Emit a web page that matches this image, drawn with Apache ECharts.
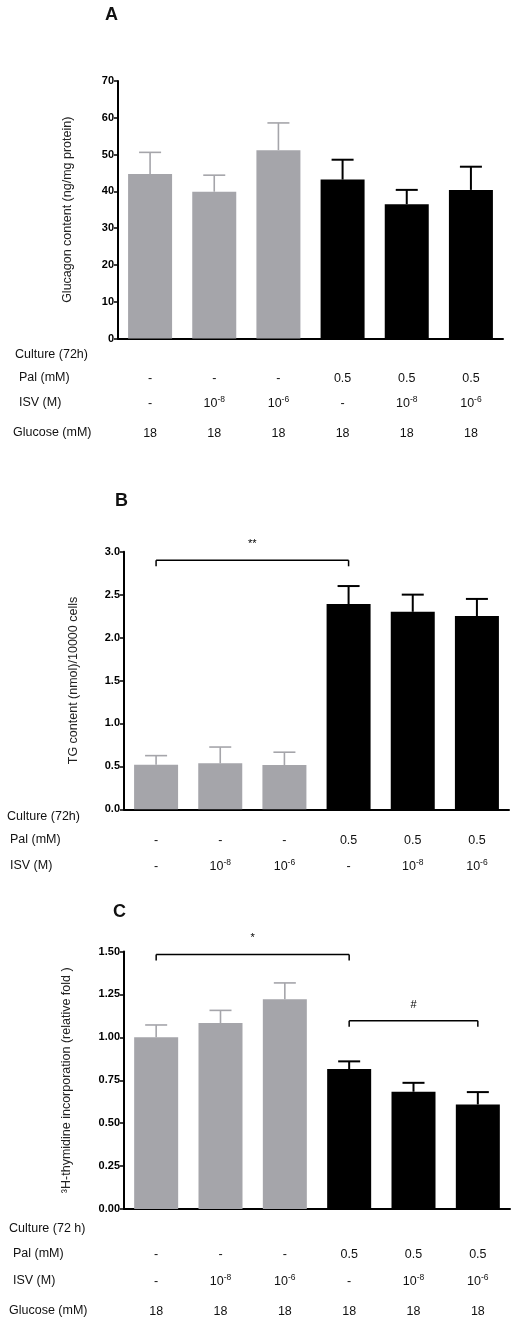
<!DOCTYPE html>
<html><head><meta charset="utf-8">
<script src="https://cdn.jsdelivr.net/npm/echarts@6/dist/echarts.min.js"></script>
<style>html,body{margin:0;padding:0;background:#fff}#c{width:516px;height:1327px}</style>
</head><body><div id="c"></div>
<script>
// ---- data ----
const categories = ['G1','G2','G3','G4','G5','G6'];
const palRow = ['-','-','-','0.5','0.5','0.5'];
const isvRow = ['-','10^-8','10^-6','-','10^-8','10^-6'];
const glucoseRow = ['18','18','18','18','18','18'];

const glucagonMean = [44.7, 39.9, 51.2, 43.2, 36.5, 40.4];
const glucagonSem  = [5.9, 4.5, 7.4, 5.4, 3.9, 6.3];
const glucagonTicks = {min:0, max:70, interval:10};

const tgMean = [0.52, 0.535, 0.515, 2.39, 2.30, 2.25];
const tgSem  = [0.105, 0.19, 0.15, 0.21, 0.20, 0.20];
const tgTicks = {min:0, max:3, interval:0.5};

const thyMean = [1.00, 1.083, 1.222, 0.815, 0.683, 0.609];
const thySem  = [0.072, 0.074, 0.095, 0.045, 0.052, 0.072];
const thyTicks = {min:0, max:1.5, interval:0.25};

const bracketsB = [[0, 2.90, 3, '**']];
const bracketsC = [[0, 1.483, 3, '*'], [3, 1.096, 5, '#']];

const rowLabelsA = ['Culture (72h)','Pal (mM)','ISV (M)','Glucose (mM)'];
const rowLabelsB = ['Culture (72h)','Pal (mM)','ISV (M)'];
const rowLabelsC = ['Culture (72 h)','Pal (mM)','ISV (M)','Glucose (mM)'];

// ---- styles ----
const GREY = '#a5a5aa', BLACK = '#000';
const FONT = '"Liberation Sans", Arial, sans-serif';
const colorOf = i => palRow[i] === '-' ? GREY : BLACK;

function fmtCell(s){
  if (s.indexOf('^') >= 0){ const p = s.split('^'); return p[0] + '{s|' + p[1] + '}'; }
  return s;
}

const grids = [
  {left:118, top:81, width:385, height:257.5},
  {left:124, top:551.7, width:385, height:257.6},
  {left:124, top:951.5, width:386, height:257.5}
];

const xAxes = [], yAxes = [], series = [];

function mainX(g){
  xAxes.push({type:'category', gridIndex:g, data:categories,
    axisLine:{show:true, onZero:false, lineStyle:{color:'#000', width:2}},
    axisTick:{show:false}, axisLabel:{show:false}, splitLine:{show:false}});
  return xAxes.length-1;
}
function rowX(g, offset, row){
  xAxes.push({type:'category', gridIndex:g, data:categories, position:'bottom', offset:offset,
    axisLine:{show:false}, axisTick:{show:false}, splitLine:{show:false},
    axisLabel:{interval:0, margin:0, verticalAlign:'middle', fontSize:12.5, lineHeight:18,
      color:'#111', fontFamily:FONT, formatter:(v,i)=>fmtCell(row[i]),
      rich:{s:{fontSize:8.5, verticalAlign:'top', fontFamily:FONT, color:'#111'}}}});
}
function yAx(g, ticks, name, nameGap, dec){
  yAxes.push({type:'value', gridIndex:g, min:ticks.min, max:ticks.max, interval:ticks.interval,
    axisLine:{show:true, lineStyle:{color:'#000', width:2}},
    axisTick:{show:true, length:4, lineStyle:{color:'#000', width:1.5}},
    axisLabel:{fontWeight:'bold', fontSize:11, color:'#000', margin:4, fontFamily:FONT,
      formatter:v=>v.toFixed(dec)},
    splitLine:{show:false},
    name:name, nameLocation:'middle', nameGap:nameGap,
    nameTextStyle:{fontSize:12.5, color:'#222', fontFamily:FONT}});
  return yAxes.length-1;
}
function bars(xi, yi, mean, sem){
  series.push({type:'bar', xAxisIndex:xi, yAxisIndex:yi, barWidth:44,
    data:mean.map((m,i)=>({value:m, itemStyle:{color:colorOf(i)}})), z:2, silent:true});
  series.push({type:'custom', xAxisIndex:xi, yAxisIndex:yi, z:3, silent:true,
    data:mean.map((m,i)=>[i, m, m+sem[i]]),
    encode:{x:0, y:1},
    renderItem:(params, api)=>{
      const i = api.value(0);
      const p0 = api.coord([i, api.value(1)]);
      const p1 = api.coord([i, api.value(2)]);
      const c = colorOf(i), w = c === BLACK ? 2 : 1.6;
      const st = {stroke:c, lineWidth:w};
      return {type:'group', children:[
        {type:'line', shape:{x1:p0[0], y1:p0[1], x2:p1[0], y2:p1[1]}, style:st},
        {type:'line', shape:{x1:p1[0]-11, y1:p1[1], x2:p1[0]+11, y2:p1[1]}, style:st}
      ]};
    }});
}
function brackets(xi, yi, data){
  series.push({type:'custom', xAxisIndex:xi, yAxisIndex:yi, z:4, silent:true,
    data:data, encode:{x:0, y:1},
    renderItem:(params, api)=>{
      const d = data[params.dataIndex];
      const a = api.coord([d[0], d[1]]), b = api.coord([d[2], d[1]]);
      const st = {stroke:'#000', lineWidth:1.5};
      return {type:'group', children:[
        {type:'line', shape:{x1:a[0], y1:a[1], x2:b[0], y2:b[1]}, style:st},
        {type:'line', shape:{x1:a[0], y1:a[1], x2:a[0], y2:a[1]+6}, style:st},
        {type:'line', shape:{x1:b[0], y1:b[1], x2:b[0], y2:b[1]+6}, style:st},
        {type:'text', style:{text:d[3], x:(a[0]+b[0])/2, y:a[1]-16, align:'center', verticalAlign:'middle',
          font:'11px ' + FONT, fill:'#000'}}
      ]};
    }});
}

// Panel A
let xa = mainX(0);
rowX(0, 40.5, palRow); rowX(0, 65.5, isvRow); rowX(0, 95.5, glucoseRow);
let ya = yAx(0, glucagonTicks, 'Glucagon content (ng/mg protein)', 44, 0);
bars(xa, ya, glucagonMean, glucagonSem);

// Panel B
let xb = mainX(1);
rowX(1, 31.4, palRow); rowX(1, 57.4, isvRow);
let yb = yAx(1, tgTicks, 'TG content (nmol)/10000 cells', 44, 1);
bars(xb, yb, tgMean, tgSem);
brackets(xb, yb, bracketsB);

// Panel C
let xc = mainX(2);
rowX(2, 45.3, palRow); rowX(2, 72.7, isvRow); rowX(2, 102.7, glucoseRow);
let yc = yAx(2, thyTicks, '\u00B3H-thymidine incorporation (relative fold )', 51, 2);
bars(xc, yc, thyMean, thySem);
brackets(xc, yc, bracketsC);

// text graphics: panel letters and row labels
const graphics = [];
function txt(x, y, s, size, bold){
  graphics.push({type:'text', left:x, top:y - size*0.6, silent:true,
    style:{text:s, font:(bold?'bold ':'') + size + 'px ' + FONT, fill:'#111'}});
}
txt(105, 16.5, 'A', 18, true);
txt(115, 503, 'B', 18, true);
txt(113, 913.5, 'C', 18, true);
const rowPosA = [[15,355.7],[19,379],[19,404],[13,434]];
const rowPosB = [[7,818],[10,840.7],[10,866.7]];
const rowPosC = [[9,1230],[13,1254.3],[13,1281.7],[9,1311.7]];
rowLabelsA.forEach((s,i)=>txt(rowPosA[i][0], rowPosA[i][1], s, 12.5, false));
rowLabelsB.forEach((s,i)=>txt(rowPosB[i][0], rowPosB[i][1], s, 12.5, false));
rowLabelsC.forEach((s,i)=>txt(rowPosC[i][0], rowPosC[i][1], s, 12.5, false));

const chart = echarts.init(document.getElementById('c'), null, {renderer:'canvas'});
chart.setOption({
  animation:false, backgroundColor:'#fff',
  grid:grids, xAxis:xAxes, yAxis:yAxes, series:series, graphic:graphics
});
</script></body></html>
